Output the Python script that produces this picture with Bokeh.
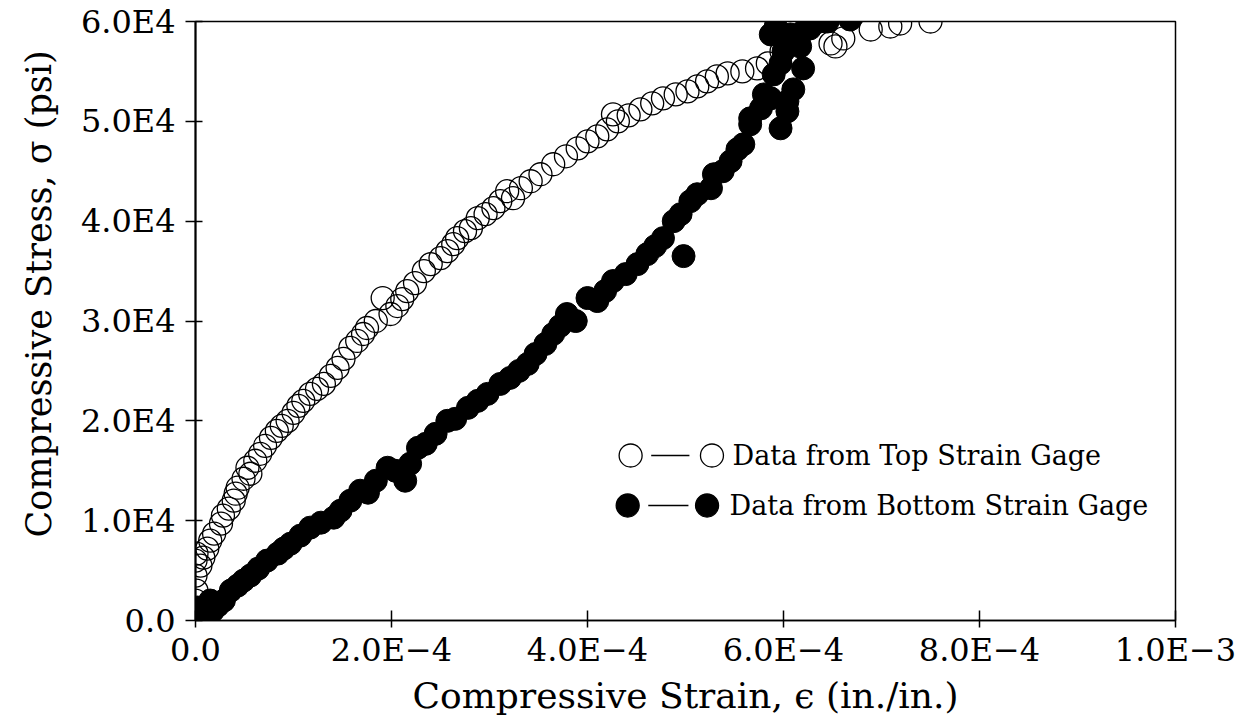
from bokeh.plotting import figure
from bokeh.models import Range1d, FixedTicker, Label, Title
from bokeh.embed import file_html
from bokeh.resources import INLINE

# ---- data (strain in micro-strain, stress in psi) ----
top_strain_ue = [0, 0, 1, 0, 0, 1, 5, 8, 12, 15, 19, 26, 28, 34, 39, 41, 43, 49, 53, 56,
                 61, 66, 71, 77, 83, 88, 94, 100, 105, 110, 117, 124, 131, 138, 145, 151,
                 158, 165, 171, 175, 184, 191, 199, 206, 211, 216, 224, 233, 240, 250, 257,
                 263, 267, 275, 281, 288, 296, 304, 311, 318, 324, 332, 342, 352, 365, 378,
                 390, 400, 410, 420, 431, 426, 442, 454, 466, 477, 490, 502, 512, 522, 532,
                 543, 558, 573, 584, 598, 648, 653, 661, 689, 709, 719, 750]
top_stress_psi = [300, 2000, 3000, 4500, 6000, 6700, 5500, 6300, 7200, 8000, 8700, 9700,
                  10500, 11200, 12000, 12700, 13300, 14200, 15300, 14700, 16000, 16700,
                  17500, 18300, 19000, 19500, 20000, 20800, 21500, 22000, 22700, 23200,
                  23700, 24500, 25300, 26200, 27300, 28000, 28700, 29300, 30000, 32300,
                  30700, 31500, 32200, 33000, 33800, 35000, 35700, 36300, 37000, 37700,
                  38300, 39000, 39300, 40300, 40700, 41300, 42000, 43000, 42300, 43300,
                  44000, 44700, 45700, 46500, 47300, 48000, 48500, 49200, 50000, 50700,
                  50600, 51200, 51800, 52300, 52700, 53000, 53500, 54000, 54500, 54800,
                  55000, 55300, 55800, 57000, 57800, 57500, 58300, 59200, 59500, 59800,
                  60000]

bot_strain_ue = [2, 5, 10, 18, 15, 23, 29, 36, 43, 49, 56, 64, 73, 84, 90, 97, 107, 117,
                 128, 141, 148, 158, 168, 176, 184, 196, 204, 214, 219, 227, 235, 245, 257,
                 265, 278, 288, 298, 311, 321, 330, 339, 347, 357, 365, 372, 379, 388, 400,
                 410, 418, 426, 439, 451, 461, 469, 477, 498, 488, 495, 505, 512, 526, 529,
                 538, 546, 553, 559, 566, 566, 577, 580, 587, 597, 604, 604, 610, 590, 597,
                 600, 587, 592, 607, 620, 617, 620, 627, 637, 645, 668]
bot_stress_psi = [1300, 700, 300, 1000, 2000, 1500, 2000, 3000, 3500, 4000, 4500, 5200,
                  6000, 6700, 7200, 7700, 8500, 9300, 9800, 10300, 11000, 12000, 13000,
                  12800, 14000, 15300, 15000, 14000, 15700, 17300, 17700, 18700, 20000,
                  20200, 21300, 22000, 22700, 23700, 24300, 25000, 25700, 26700, 27700,
                  28700, 29500, 30700, 30000, 32300, 32000, 33000, 34000, 34700, 35700,
                  36700, 37500, 38300, 36500, 40000, 40700, 42000, 42700, 43300, 44700,
                  45000, 46000, 47200, 47700, 49700, 50300, 51300, 52700, 52300, 49300,
                  51000, 52000, 53200, 54700, 55800, 57000, 58700, 59500, 58700, 55300,
                  57500, 59000, 59300, 60000, 60000, 60200]

x_ticks = [0.0, 2.0e-4, 4.0e-4, 6.0e-4, 8.0e-4, 1.0e-3]
x_tick_labels = ["0.0", "2.0E\u22124", "4.0E\u22124", "6.0E\u22124", "8.0E\u22124", "1.0E\u22123"]
y_ticks = [0.0, 1.0e4, 2.0e4, 3.0e4, 4.0e4, 5.0e4, 6.0e4]
y_tick_labels = ["0.0", "1.0E4", "2.0E4", "3.0E4", "4.0E4", "5.0E4", "6.0E4"]

x_title = "Compressive Strain, \u03f5 (in./in.)"
y_title = "Compressive Stress, \u03c3 (psi)"
legend_labels = ["Data from Top Strain Gage", "Data from Bottom Strain Gage"]

top_x = [v * 1e-6 for v in top_strain_ue]
bot_x = [v * 1e-6 for v in bot_strain_ue]

FONT = "DejaVu Serif"

p = figure(width=1257, height=727, output_backend="svg", toolbar_location=None,
           x_range=Range1d(0, 1e-3), y_range=Range1d(0, 6e4),
           min_border_left=195, min_border_right=82, min_border_top=21,
           min_border_bottom=107, background_fill_color="white",
           border_fill_color="white")
p.grid.visible = False
p.outline_line_color = "black"
p.outline_line_width = 1.5
p.outline_line_alpha = 1.0

xa = p.xaxis[0]
xa.ticker = FixedTicker(ticks=x_ticks)
xa.major_label_overrides = {t: l for t, l in zip(x_ticks, x_tick_labels)}
xa.major_tick_in = 10
xa.major_tick_out = 7
xa.minor_tick_in = 0
xa.minor_tick_out = 0
xa.axis_line_width = 1.5
xa.major_tick_line_width = 1.5
xa.major_label_text_font = FONT
xa.major_label_text_font_size = "32px"
xa.major_label_text_color = "black"
xa.major_label_standoff = 3
xa.axis_label = x_title
xa.axis_label_text_font = FONT
xa.axis_label_text_font_size = "36px"
xa.axis_label_text_font_style = "normal"
xa.axis_label_text_color = "black"
xa.axis_label_standoff = 3

ya = p.yaxis[0]
ya.ticker = FixedTicker(ticks=y_ticks)
ya.major_label_overrides = {t: l for t, l in zip(y_ticks, y_tick_labels)}
ya.major_tick_in = 7
ya.major_tick_out = 10
ya.minor_tick_in = 0
ya.minor_tick_out = 0
ya.axis_line_width = 2
ya.major_tick_line_width = 1.5
ya.major_label_text_font = FONT
ya.major_label_text_font_size = "32px"
ya.major_label_text_color = "black"
ya.major_label_standoff = 10

# y-axis title as a side title so its position along the axis can be set
p.add_layout(Title(text=y_title, align="left", offset=83, vertical_align="top",
                   standoff=34, text_font=FONT, text_font_size="35px",
                   text_font_style="normal", text_color="black"), "left")

# data
p.scatter(top_x, top_stress_psi, marker="circle", size=23, fill_color=None,
          line_color="black", line_width=1.3)
p.scatter(bot_x, bot_stress_psi, marker="circle", size=23, fill_color="black",
          line_color="black", line_width=1)

# legend (layout constants in data units)
leg_rows_y = [16530, 11520]
leg_mark_x = [(4.44e-4, 5.27e-4), (4.41e-4, 5.22e-4)]
leg_line_x = [(4.65e-4, 5.04e-4), (4.62e-4, 5.03e-4)]
leg_text_x = [5.48e-4, 5.45e-4]
leg_fill = [None, "black"]
for i in range(2):
    p.line(list(leg_line_x[i]), [leg_rows_y[i]] * 2, line_color="black", line_width=1.5)
    p.scatter(list(leg_mark_x[i]), [leg_rows_y[i]] * 2, marker="circle", size=23,
              fill_color=leg_fill[i], line_color="black", line_width=1.3)
    p.add_layout(Label(x=leg_text_x[i], y=leg_rows_y[i], text=legend_labels[i],
                       text_font=FONT, text_font_size="27px", text_align="left",
                       text_baseline="middle", text_color="black"))

open("out.html", "w").write(file_html(p, INLINE))
